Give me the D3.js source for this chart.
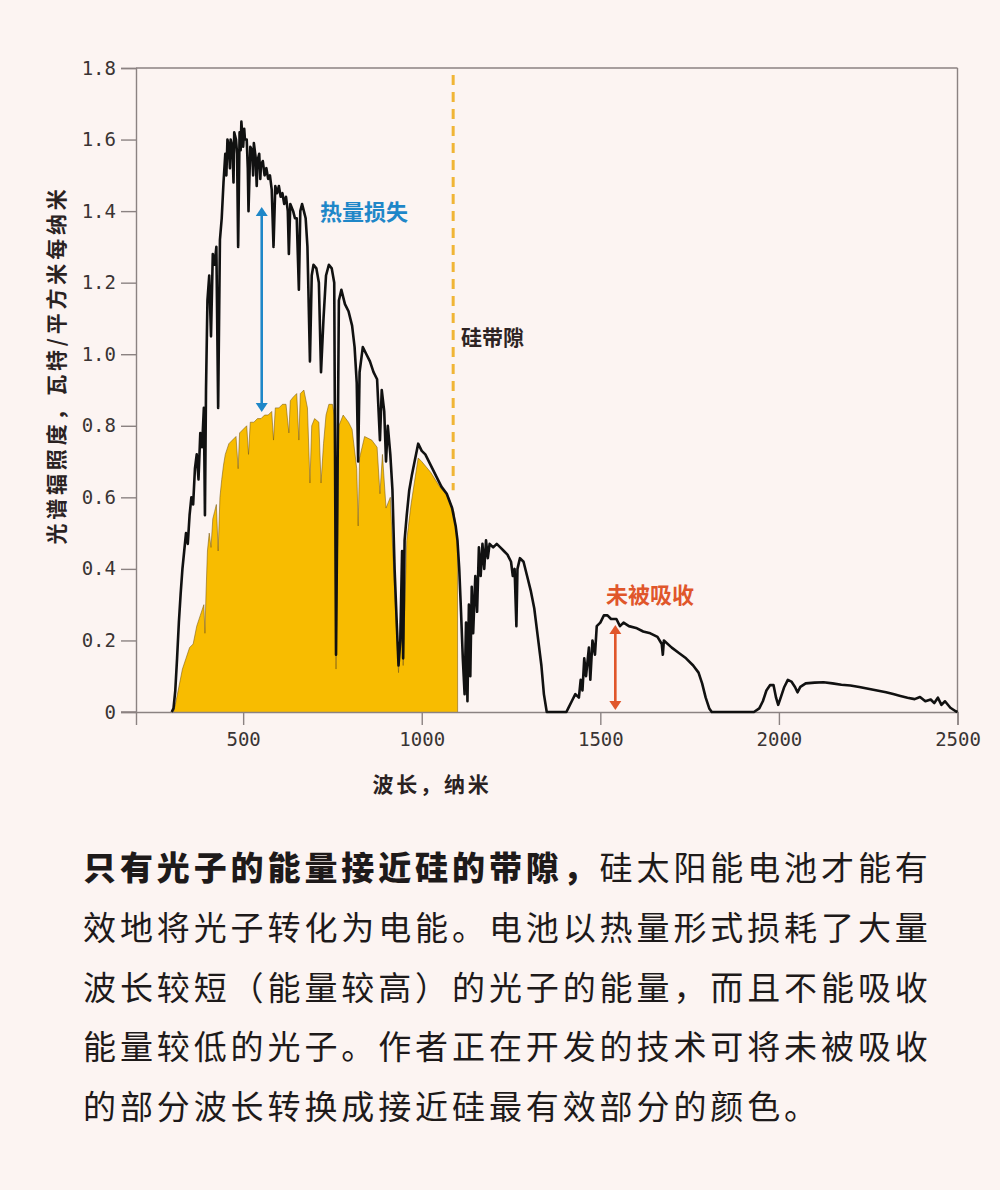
<!DOCTYPE html>
<html><head><meta charset="utf-8">
<script src="https://cdn.jsdelivr.net/npm/d3@7"></script>
<style>
html,body{margin:0;padding:0;background:#fcf4f2;}
svg{display:block;}
</style></head>
<body>
<svg id="chart" width="1000" height="1190"></svg>
<script>
// ---- data ----
const spectrumWl = [300,305,310,315,320,325,330,335,340,345,350,355,360,365,370,375,380,385,390,393,396,400,405,410,415,420,425,430,435,440,445,450,453,456,460,463,465,470,473,475,480,483,486,490,493,495,500,503,505,510,513,515,520,525,528,530,535,538,540,545,548,550,555,560,565,570,575,580,585,590,595,600,605,610,615,620,625,628,632,640,645,650,656,660,665,670,675,680,687,692,697,705,712,718,725,732,740,748,755,760,763,768,775,785,795,805,812,818,822,826,835,845,855,865,875,883,888,895,900,905,912,918,924,930,935,940,945,948,952,958,965,972,980,990,1000,1010,1025,1040,1055,1070,1085,1095,1100,1105,1110,1115,1120,1124,1128,1132,1136,1140,1144,1150,1155,1160,1165,1170,1175,1180,1185,1190,1200,1210,1220,1230,1240,1250,1255,1260,1265,1268,1275,1285,1295,1305,1315,1325,1335,1342,1350,1405,1410,1420,1430,1440,1445,1450,1455,1460,1468,1472,1478,1485,1490,1500,1510,1520,1530,1545,1555,1565,1580,1600,1620,1640,1660,1672,1675,1678,1700,1720,1740,1760,1775,1785,1795,1805,1812,1930,1945,1955,1965,1975,1985,1992,1998,2005,2015,2025,2035,2045,2052,2060,2075,2100,2125,2150,2175,2200,2225,2250,2275,2300,2320,2340,2360,2380,2395,2410,2425,2435,2445,2455,2465,2480,2495,2500];
const spectrumVal = [0,0.01,0.06,0.15,0.25,0.33,0.40,0.45,0.50,0.47,0.55,0.60,0.58,0.68,0.72,0.65,0.78,0.74,0.85,0.55,0.90,1.15,1.22,1.05,1.28,1.25,1.30,0.85,1.32,1.38,1.48,1.56,1.50,1.60,1.58,1.52,1.60,1.58,1.48,1.62,1.60,1.56,1.30,1.62,1.57,1.65,1.58,1.63,1.60,1.60,1.52,1.40,1.58,1.57,1.50,1.59,1.55,1.47,1.54,1.56,1.49,1.53,1.54,1.50,1.52,1.49,1.50,1.46,1.30,1.47,1.45,1.47,1.44,1.45,1.42,1.44,1.40,1.28,1.42,1.40,1.38,1.38,1.18,1.40,1.42,1.40,1.38,1.30,0.98,1.22,1.25,1.24,1.20,0.95,1.10,1.22,1.25,1.24,1.20,0.16,0.50,1.15,1.18,1.14,1.12,1.08,1.02,0.92,0.70,0.95,1.02,1.00,0.98,0.95,0.93,0.76,0.90,0.84,0.70,0.80,0.72,0.62,0.40,0.25,0.13,0.20,0.45,0.15,0.48,0.55,0.62,0.66,0.70,0.75,0.73,0.72,0.69,0.66,0.63,0.61,0.57,0.52,0.48,0.40,0.28,0.15,0.05,0.25,0.03,0.30,0.10,0.35,0.22,0.38,0.28,0.46,0.38,0.47,0.40,0.48,0.43,0.47,0.46,0.47,0.46,0.45,0.44,0.42,0.38,0.40,0.24,0.40,0.43,0.42,0.38,0.34,0.29,0.21,0.13,0.05,0,0,0.01,0.03,0.05,0.04,0.09,0.06,0.15,0.10,0.18,0.09,0.20,0.16,0.24,0.25,0.27,0.27,0.26,0.26,0.24,0.25,0.24,0.235,0.225,0.22,0.21,0.19,0.16,0.20,0.18,0.165,0.15,0.13,0.11,0.08,0.04,0.01,0,0,0.01,0.03,0.06,0.075,0.075,0.04,0.02,0.04,0.07,0.09,0.085,0.07,0.055,0.07,0.08,0.082,0.083,0.08,0.076,0.074,0.07,0.065,0.06,0.055,0.05,0.045,0.04,0.036,0.042,0.03,0.035,0.025,0.04,0.02,0.03,0.012,0.002,0];

const usableWl = [305,310,320,330,340,350,360,370,380,390,393,396,400,405,410,415,420,425,430,435,440,445,450,460,470,480,486,490,500,510,515,520,530,540,550,560,570,580,585,590,600,610,620,628,632,640,650,656,660,670,680,687,692,700,712,718,725,732,740,750,755,760,763,768,780,795,805,818,822,826,840,860,875,883,890,900,912,924,935,945,948,958,970,990,1000,1025,1050,1075,1090,1100,1100.5];
const usableVal = [0,0.02,0.07,0.12,0.15,0.18,0.19,0.24,0.27,0.30,0.22,0.33,0.45,0.50,0.46,0.54,0.56,0.58,0.45,0.60,0.65,0.69,0.72,0.75,0.76,0.77,0.68,0.78,0.79,0.80,0.72,0.81,0.81,0.82,0.82,0.83,0.83,0.84,0.76,0.85,0.85,0.86,0.86,0.78,0.87,0.88,0.89,0.76,0.89,0.90,0.85,0.64,0.80,0.82,0.81,0.64,0.75,0.83,0.86,0.86,0.83,0.12,0.35,0.80,0.83,0.81,0.79,0.68,0.52,0.71,0.77,0.76,0.74,0.61,0.72,0.57,0.60,0.34,0.11,0.39,0.13,0.48,0.58,0.71,0.70,0.67,0.63,0.60,0.56,0.48,0];

const yTicks = [0,0.2,0.4,0.6,0.8,1.0,1.2,1.4,1.6,1.8];
const yTickLabels = ["0","0.2","0.4","0.6","0.8","1.0","1.2","1.4","1.6","1.8"];
const xTicks = [500,1000,1500,2000,2500];
const bandGapWl = 1088;

const yTitle = "光谱辐照度，瓦特/平方米每纳米";
const xTitle = "波长，纳米";
const heatLabel = "热量损失";
const gapLabel = "硅带隙";
const unabsLabel = "未被吸收";
const captionBold = "只有光子的能量接近硅的带隙，";
const captionLines = ["硅太阳能电池才能有","效地将光子转化为电能。电池以热量形式损耗了大量","波长较短（能量较高）的光子的能量，而且不能吸收","能量较低的光子。作者正在开发的技术可将未被吸收","的部分波长转换成接近硅最有效部分的颜色。"];

// ---- drawing ----
const svg = d3.select("#chart");
const W = 1000, H = 1190;
svg.append("rect").attr("width",W).attr("height",H).attr("fill","#fcf4f2");

const x = d3.scaleLinear().domain([200,2500]).range([136,957.5]);
const y = d3.scaleLinear().domain([0,1.8]).range([712,68]);
const axisColor = "#8b8282";
const cjk = "'Noto Sans CJK SC','Noto Sans',sans-serif";
const mono = "'DejaVu Sans Mono','Liberation Mono',monospace";

const spectrum = spectrumWl.map((w,i)=>({w, v: spectrumVal[i]}));
const usable = usableWl.map((w,i)=>({w, v: usableVal[i]}));

// usable (yellow) area
const area = d3.area().x(d=>x(d.w)).y0(y(0)).y1(d=>y(d.v));
svg.append("path").datum(usable).attr("d",area).attr("fill","#f8bc00");
svg.append("path").datum(usable)
  .attr("d", d3.line().x(d=>x(d.w)).y(d=>y(d.v)))
  .attr("fill","none").attr("stroke","#7a5a10").attr("stroke-width",0.8).attr("stroke-opacity",0.7);

// frame / axes
svg.append("line").attr("x1",x(200)).attr("x2",x(2500)).attr("y1",y(1.8)).attr("y2",y(1.8)).attr("stroke",axisColor).attr("stroke-width",1.4);
svg.append("line").attr("x1",x(2500)).attr("x2",x(2500)).attr("y1",y(1.8)).attr("y2",y(0)).attr("stroke",axisColor).attr("stroke-width",1.4);

const yAxis = d3.axisLeft(y).tickValues(yTicks).tickSize(15).tickPadding(5)
  .tickFormat((d,i)=>yTickLabels[i]);
const ya = svg.append("g").attr("transform",`translate(${x(200)},0)`).call(yAxis);
ya.select(".domain").attr("stroke",axisColor).attr("stroke-width",1.4);
ya.selectAll(".tick line").attr("stroke",axisColor).attr("stroke-width",1.4);
ya.selectAll(".tick text").attr("font-family",mono).attr("font-size",19).attr("fill","#3a3434");

const xAxis = d3.axisBottom(x).tickValues(xTicks).tickSize(13).tickPadding(8).tickFormat(d3.format("d"));
const xa = svg.append("g").attr("transform",`translate(0,${y(0)})`).call(xAxis);
xa.select(".domain").attr("stroke",axisColor).attr("stroke-width",1.4);
xa.selectAll(".tick line").attr("stroke",axisColor).attr("stroke-width",1.4);
xa.selectAll(".tick text").attr("font-family",mono).attr("font-size",19).attr("fill","#3a3434");
svg.append("line").attr("x1",x(200)-15).attr("x2",x(200)).attr("y1",y(0)).attr("y2",y(0)).attr("stroke",axisColor).attr("stroke-width",1.4);

// band gap dashed line
svg.append("line").attr("x1",x(bandGapWl)).attr("x2",x(bandGapWl)).attr("y1",75).attr("y2",y(0.62))
  .attr("stroke","#f0b536").attr("stroke-width",3).attr("stroke-dasharray","10,7");

// spectrum line
svg.append("path").datum(spectrum)
  .attr("d", d3.line().x(d=>x(d.w)).y(d=>y(d.v)))
  .attr("fill","none").attr("stroke","#111").attr("stroke-width",2.6).attr("stroke-linejoin","round");

// arrows
function dblArrow(xp, y1, y2, color){
  const gg = svg.append("g");
  gg.append("line").attr("x1",xp).attr("x2",xp).attr("y1",y1+6).attr("y2",y2-6).attr("stroke",color).attr("stroke-width",2.6);
  gg.append("path").attr("d",`M${xp},${y1} L${xp-6},${y1+9} L${xp+6},${y1+9} Z`).attr("fill",color);
  gg.append("path").attr("d",`M${xp},${y2} L${xp-6},${y2-9} L${xp+6},${y2-9} Z`).attr("fill",color);
}
dblArrow(x(552), 207, 412, "#1f87c8");
dblArrow(x(1542), 625, 710, "#e0562b");

// annotation labels
svg.append("text").attr("x",364).attr("y",210).attr("text-anchor","middle").attr("dominant-baseline","central")
  .attr("font-family",cjk).attr("font-weight",700).attr("font-size",22).attr("fill","#1f87c8").text(heatLabel);
svg.append("text").attr("x",461).attr("y",336).attr("text-anchor","start").attr("dominant-baseline","central")
  .attr("font-family",cjk).attr("font-weight",700).attr("font-size",21).attr("fill","#2e2424").text(gapLabel);
svg.append("text").attr("x",650).attr("y",593).attr("text-anchor","middle").attr("dominant-baseline","central")
  .attr("font-family",cjk).attr("font-weight",700).attr("font-size",22).attr("fill","#e0562b").text(unabsLabel);

// axis titles
svg.append("text").attr("transform","translate(55,365) rotate(-90)").attr("text-anchor","middle").attr("dominant-baseline","central")
  .attr("font-family",cjk).attr("font-weight",700).attr("font-size",21).attr("letter-spacing",3.8).attr("fill","#2a2222").text(yTitle);
svg.append("text").attr("x",432).attr("y",783).attr("text-anchor","middle").attr("dominant-baseline","central")
  .attr("font-family",cjk).attr("font-weight",700).attr("font-size",21).attr("letter-spacing",2.8).attr("fill","#2a2222").text(xTitle);

// caption
const capY = [866, 926, 986, 1045, 1105];
const cap = svg.append("g").attr("font-family",cjk).attr("font-size",33).attr("fill","#1e1a1a");
const t0 = cap.append("text").attr("x",83).attr("y",capY[0]).attr("dominant-baseline","central").attr("letter-spacing",3.9);
t0.append("tspan").attr("font-weight",900).text(captionBold);
t0.append("tspan").attr("font-weight",400).text(captionLines[0]);
for(let i=1;i<captionLines.length;i++){
  cap.append("text").attr("x",83).attr("y",capY[i]).attr("dominant-baseline","central").attr("letter-spacing",3.9)
    .attr("font-weight",400).text(captionLines[i]);
}
</script>
</body></html>
